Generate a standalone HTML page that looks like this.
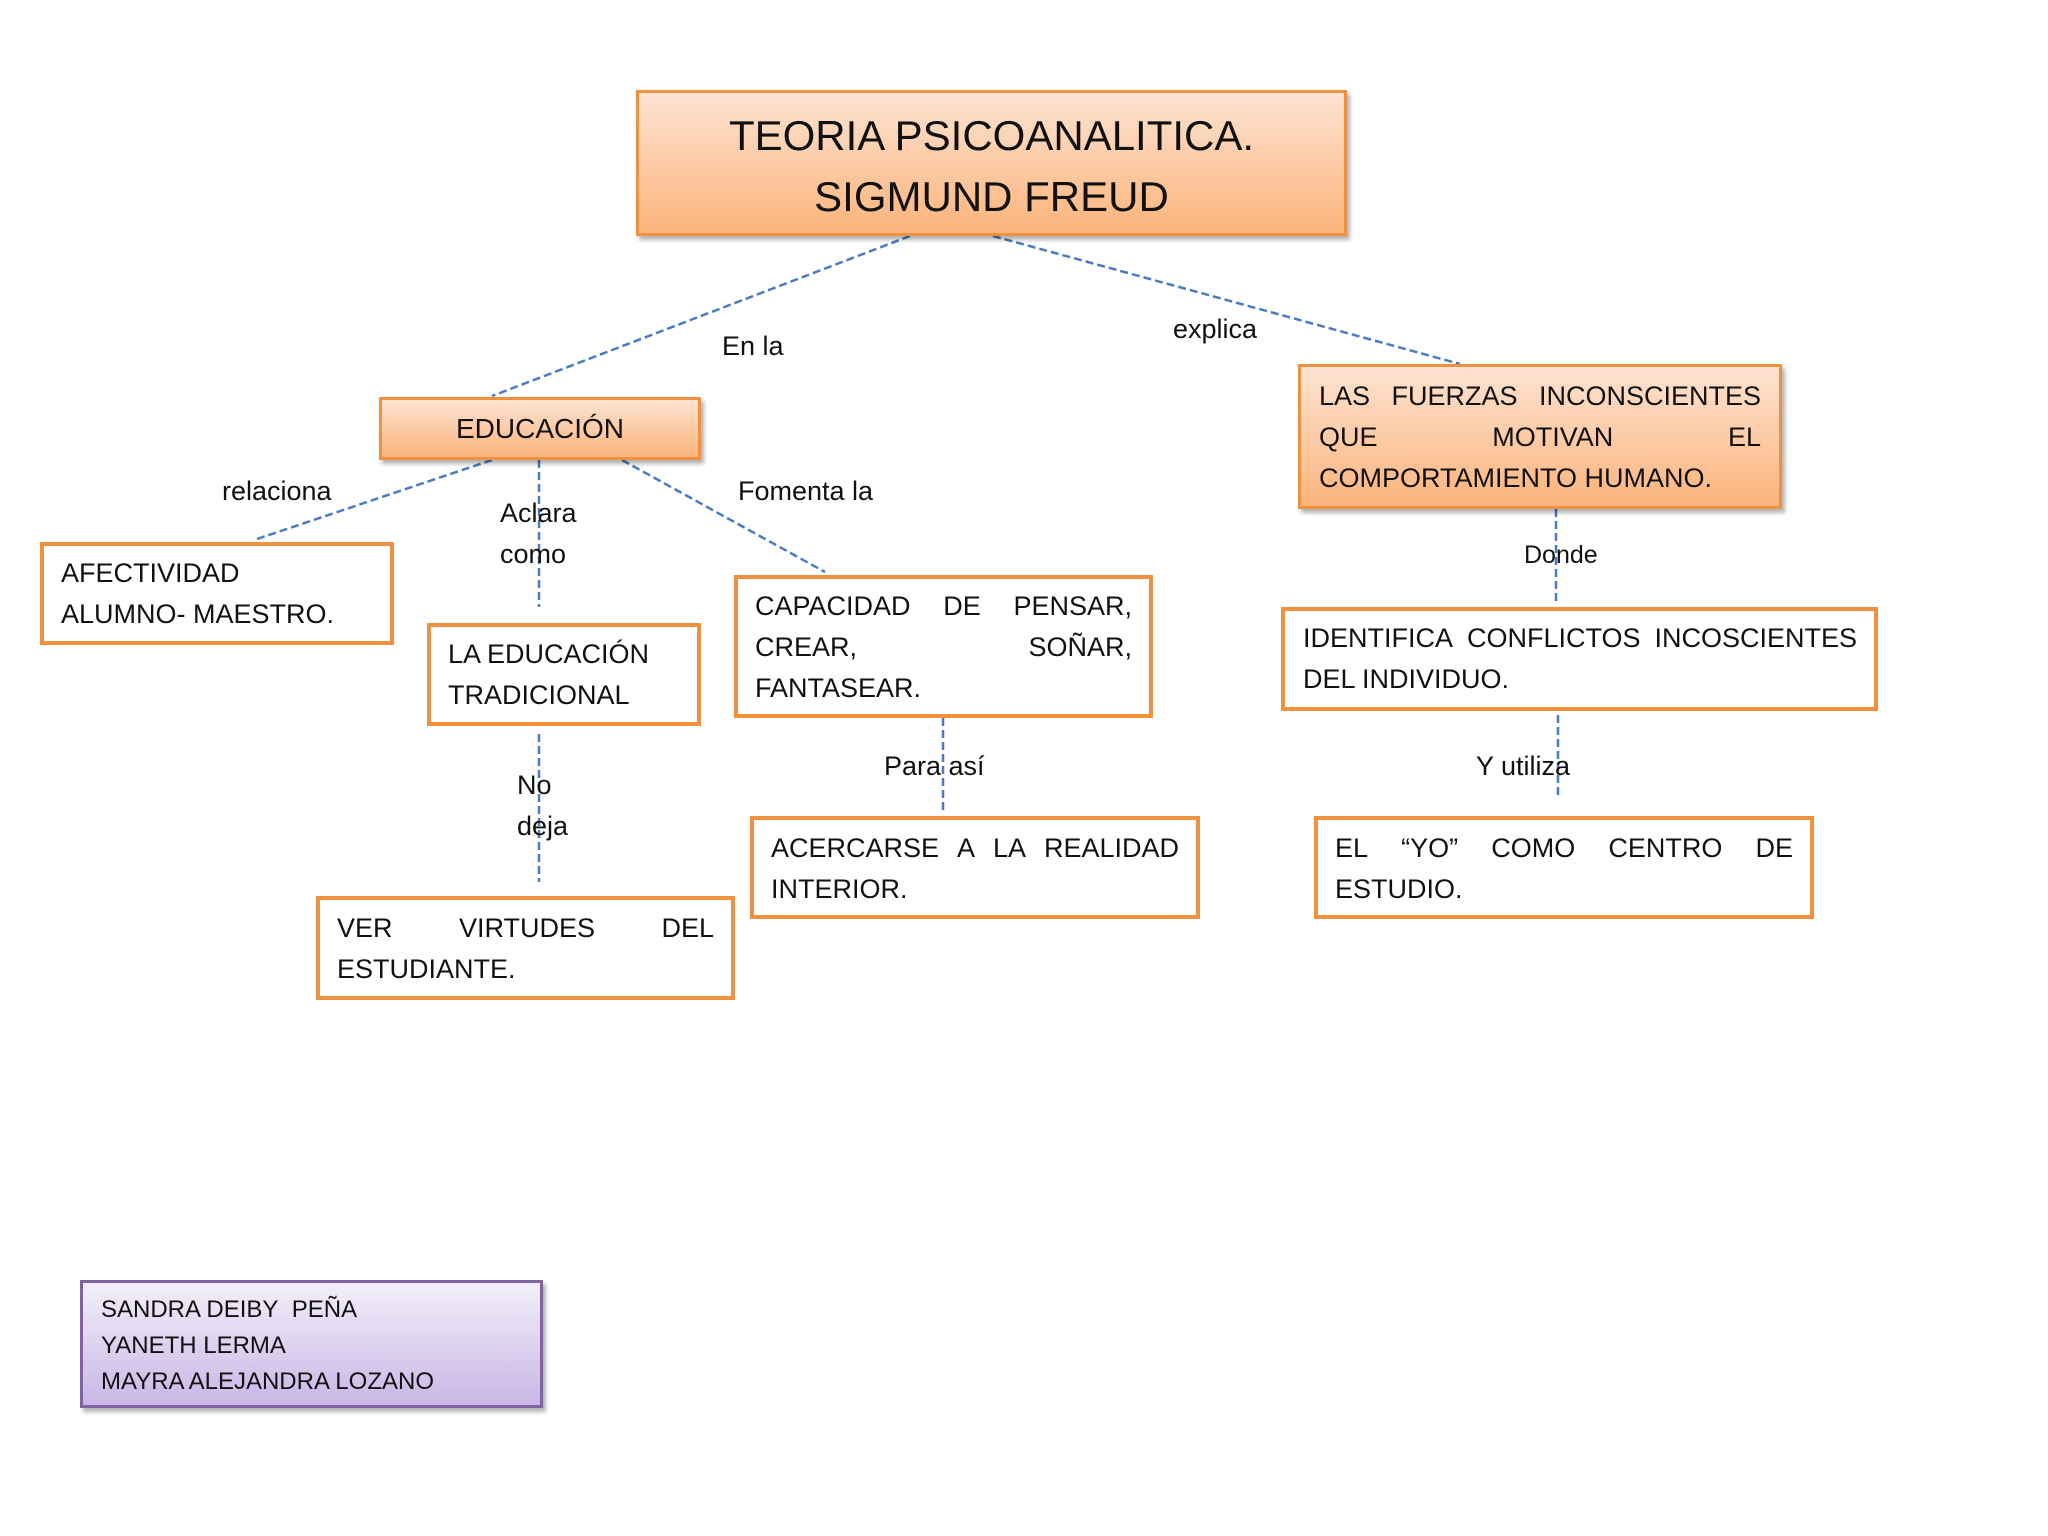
<!DOCTYPE html>
<html><head><meta charset="utf-8"><style>
body{margin:0;width:2048px;height:1536px;background:#fff;position:relative;overflow:hidden;font-family:"Liberation Sans",sans-serif;color:#111}
.b{position:absolute;box-sizing:border-box;border:4px solid #f0913f;background:#fff}
.g{background:linear-gradient(#fde3d2,#fbb47b);border:3px solid #f0913f;box-shadow:3px 4px 4px rgba(0,0,0,.3)}
.t{position:absolute;font-size:27px;line-height:41px;white-space:nowrap}
.j{display:flex;justify-content:space-between}
.l{position:absolute;font-size:27px;white-space:nowrap}
svg{position:absolute;left:0;top:0}
</style></head><body>
<svg width="2048" height="1536"><g stroke="#4a7cc0" stroke-width="2.5" stroke-dasharray="8,4" fill="none">
<line x1="910" y1="236" x2="492" y2="396"/>
<line x1="993" y1="236" x2="1460" y2="364"/>
<line x1="492" y1="460" x2="257" y2="539"/>
<line x1="539" y1="460" x2="539" y2="607"/>
<line x1="622" y1="460" x2="825" y2="572"/>
<line x1="1556" y1="509" x2="1556" y2="603"/>
<line x1="539" y1="734" x2="539" y2="882"/>
<line x1="943" y1="718" x2="943" y2="814"/>
<line x1="1558" y1="703" x2="1558" y2="799"/>
</g></svg>
<div class="b g" style="left:636px;top:90px;width:711px;height:146px;text-align:center;font-size:42px;line-height:61px;padding-top:12px">TEORIA PSICOANALITICA.<br>SIGMUND FREUD</div>
<div class="b g" style="left:379px;top:397px;width:322px;height:63px;text-align:center;font-size:28px;line-height:57px">EDUCACIÓN</div>
<div class="b g" style="left:1298px;top:364px;width:484px;height:145px"></div>
<div class="t" style="left:1319px;top:376px;width:442px"><div class="j"><span>LAS</span><span>FUERZAS</span><span>INCONSCIENTES</span></div><div class="j"><span>QUE</span><span>MOTIVAN</span><span>EL</span></div><div>COMPORTAMIENTO HUMANO.</div></div>

<div class="b" style="left:40px;top:542px;width:354px;height:103px"></div>
<div class="t" style="left:61px;top:553px">AFECTIVIDAD<br>ALUMNO- MAESTRO.</div>
<div class="b" style="left:427px;top:623px;width:274px;height:103px"></div>
<div class="t" style="left:448px;top:634px">LA EDUCACIÓN<br>TRADICIONAL</div>
<div class="b" style="left:734px;top:575px;width:419px;height:143px"></div>
<div class="t" style="left:755px;top:586px;width:377px"><div class="j"><span>CAPACIDAD</span><span>DE</span><span>PENSAR,</span></div><div class="j"><span>CREAR,</span><span>SOÑAR,</span></div><div>FANTASEAR.</div></div>
<div class="b" style="left:1281px;top:607px;width:597px;height:104px"></div>
<div class="t" style="left:1303px;top:618px;width:554px"><div class="j"><span>IDENTIFICA</span><span>CONFLICTOS</span><span>INCOSCIENTES</span></div><div>DEL INDIVIDUO.</div></div>
<div class="b" style="left:316px;top:896px;width:419px;height:104px"></div>
<div class="t" style="left:337px;top:908px;width:377px"><div class="j"><span>VER</span><span>VIRTUDES</span><span>DEL</span></div><div>ESTUDIANTE.</div></div>
<div class="b" style="left:750px;top:816px;width:450px;height:103px"></div>
<div class="t" style="left:771px;top:828px;width:408px"><div class="j"><span>ACERCARSE</span><span>A</span><span>LA</span><span>REALIDAD</span></div><div>INTERIOR.</div></div>
<div class="b" style="left:1314px;top:816px;width:500px;height:103px"></div>
<div class="t" style="left:1335px;top:828px;width:458px"><div class="j"><span>EL</span><span>“YO”</span><span>COMO</span><span>CENTRO</span><span>DE</span></div><div>ESTUDIO.</div></div>

<div class="b" style="left:80px;top:1280px;width:463px;height:128px;border:3px solid #8064a2;background:linear-gradient(#f3effa,#c9b6e6);box-shadow:3px 4px 4px rgba(0,0,0,.3)"></div>
<div class="t" style="left:101px;top:1292px;font-size:24px;line-height:36px">SANDRA DEIBY&nbsp; PEÑA<br>YANETH LERMA<br>MAYRA ALEJANDRA LOZANO</div>

<div class="l" style="left:722px;top:331px">En la</div>
<div class="l" style="left:1173px;top:314px">explica</div>
<div class="l" style="left:222px;top:476px">relaciona</div>
<div class="l" style="left:500px;top:493px;line-height:41px">Aclara<br>como</div>
<div class="l" style="left:738px;top:476px">Fomenta la</div>
<div class="l" style="left:1524px;top:541px;font-size:25px">Donde</div>
<div class="l" style="left:517px;top:765px;line-height:41px">No<br>deja</div>
<div class="l" style="left:884px;top:751px">Para así</div>
<div class="l" style="left:1476px;top:751px">Y utiliza</div>
</body></html>
